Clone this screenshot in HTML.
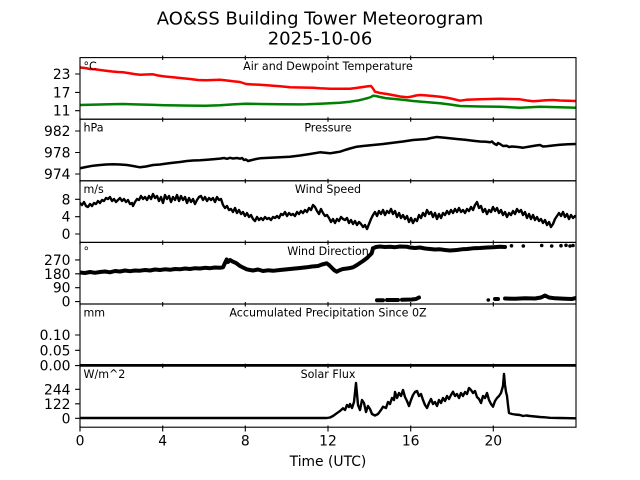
<!DOCTYPE html>
<html>
<head>
<meta charset="utf-8">
<style>
html,body{margin:0;padding:0;background:#fff;}
svg{display:block;}
text{font-family:"DejaVu Sans","Liberation Sans",sans-serif;fill:#000;}
.tk{font-size:13.89px;}
.pt{font-size:11.1px;}
</style>
</head>
<body>
<svg width="640" height="480" viewBox="0 0 640 480" xmlns="http://www.w3.org/2000/svg">
<rect x="0" y="0" width="640" height="480" fill="#fff"/>

<!-- Title -->
<text x="320" y="24.3" font-size="18" text-anchor="middle">AO&amp;SS Building Tower Meteorogram</text>
<text x="320" y="44.3" font-size="18" text-anchor="middle">2025-10-06</text>

<defs>
<clipPath id="c1"><rect x="80" y="57.6" width="496" height="61.6"/></clipPath>
<clipPath id="c2"><rect x="80" y="119.2" width="496" height="61.6"/></clipPath>
<clipPath id="c3"><rect x="80" y="180.8" width="496" height="61.6"/></clipPath>
<clipPath id="c4"><rect x="80" y="242.4" width="496" height="61.6"/></clipPath>
<clipPath id="c6"><rect x="80" y="365.6" width="496" height="61.6"/></clipPath>
</defs>

<!-- Panel 1: Temperature -->
<g clip-path="url(#c1)" fill="none" stroke-linejoin="round" stroke-linecap="round">
<polyline stroke="#008000" stroke-width="2.5" points="80,105 90,104.7 100,104.5 110,104.2 123,104 135,104.4 150,104.8 165,105.2 175,105.4 190,105.6 206,105.7 220,105.2 235,104.3 246,103.7 260,104 280,104.3 300,104.4 306.7,104.3 320,103.8 330,103.3 340,102.7 350,101.7 358,100.5 363,99.3 368,98 371,97 373,95.7 376,96 380,97 386.7,98.3 395,99 405,100 413,101 425,102 440,103.3 450,104.5 460,106 470,106.3 480,106.5 490,106.6 500,106.7 510,107.2 520,107.7 530,107.2 540,106.7 550,107 560,107.3 576,107.7"/>
<polyline stroke="#ff0000" stroke-width="2.5" points="80,67.5 85,68 90,69 95,69.3 100,70 106,70.7 112,71.5 118,72 123,72.3 128,73 134,74 140,74.7 146,74.5 153,74.3 158,75.5 165,76.5 173,77.3 180,78 190,79 198,80 206,80.3 213,80 220,79.7 227,80.5 233,81.3 240,82 246,84 253,84.5 260,84.7 267,85.2 273,85.7 280,86.3 290,87.3 300,87.5 313,87.7 320,88.3 330,88.7 340,88.7 350,88.7 356,88 363,87 368,86.3 371,86 373,88.5 375,91.7 380,93 387,94 395,95.5 400,96.5 407,97.3 412,96.5 416,95.5 420,95 427,95.5 433,96 440,96.8 447,97.7 453,99 460,100.7 466,99.8 473,99.5 480,99.3 490,99 500,98.7 510,99 520,99.3 527,100.5 533,101.3 540,100.8 546,100.2 553,100 560,100.5 568,100.8 576,101"/>
</g>

<!-- Panel 2: Pressure -->
<g clip-path="url(#c2)" fill="none" stroke="#000" stroke-width="2.5" stroke-linejoin="round">
<polyline points="80,168.3 86,167 93,165.7 100,165 106,164.5 113,164.3 120,164.5 127,165 133,166 140,167.3 146,166.5 153,165 160,164.5 167,163.5 173,162.7 180,162 187,161 193,160.5 200,160.3 207,159.8 213,159.3 220,158.6 224,158 227,158.8 230,157.8 233,158.5 237,158 240,158.7 242,158 244,160 246,159.5 248,161 250,160.5 252,160 256,159 260,158.3 270,157.8 280,157.2 290,156.7 300,155.5 310,154 320,152.3 325,152.8 330,153.3 335,152.5 340,151.7 345,150 350,148.5 356.7,146.7 363,146 373,145 383,144 393,142.7 403,141.5 413,140 420,139.5 426.7,139 431,138 436.7,137 445,137.8 456.7,139 465,139.8 473,140.7 480,141.5 486,141.8 490,142.3 492,141.5 494,143.5 496.7,145 498,143 500,144 503,146 506.7,145.7 509,147 512,146.5 518,147 523,147.7 530,146.5 536,145.5 540,145 543,146.5 546.7,146.3 553,145.5 560,144.7 568,144.3 576,144"/>
</g>

<!-- Panel 3: Wind Speed -->
<g clip-path="url(#c3)" fill="none" stroke="#000" stroke-width="2.4" stroke-linejoin="round">
<polyline points="80,203 82,205 84,202 86,206 88,207 90,204 92,206 94,203 96,204 98,201 100,203 102,200 104,201 106,198 108,199 110,197 112,201 114,199 116,202 118,200 120,198 122,201 124,199 126,202 128,200 130,204 132,203 133,206 135,202 137,199 139,200 141,196 143,199 145,197 147,200 149,196 151,199 153,194 155,198 157,196 159,201 161,197 163,203 165,195 167,199 169,196 171,202 173,197 175,200 177,195 179,201 181,196 183,200 185,197 187,203 189,198 191,202 193,199 195,204 197,200 199,197 201,196 203,200 205,197 207,201 209,198 211,200 213,198 215,202 217,197 219,200 221,199 223,205 225,208 227,206 229,210 231,209 233,212 235,208 237,213 239,210 241,214 243,212 245,216 247,213 249,217 251,215 253,219 255,221 257,217 259,220 261,218 263,220 265,217 267,219 269,218 271,220 273,217 275,218 277,216 279,218 281,214 283,215 285,212 287,216 289,213 291,215 293,214 295,216 297,212 299,214 301,211 303,213 305,210 307,212 309,208 311,210 313,205 315,207 317,211 319,214 321,209 323,213 325,216 327,215 329,218 331,222 333,219 335,223 337,219 339,221 341,217 343,219 345,220 347,218 349,223 351,220 353,224 355,221 357,225 359,222 361,224 363,227 365,225 367,229 369,224 371,219 373,215 375,212 377,216 379,211 381,214 383,210 385,215 387,211 389,213 391,209 393,214 395,211 397,217 399,213 401,218 403,215 405,219 407,216 409,222 411,218 413,223 415,219 417,221 419,215 421,218 423,213 425,216 427,210 429,214 431,212 433,217 435,213 437,219 439,214 441,218 443,213 445,215 447,211 449,214 451,210 453,213 455,209 457,212 459,208 461,212 463,210 465,213 467,209 469,211 471,207 473,210 475,205 477,202 479,208 481,206 483,212 485,209 487,214 489,210 491,212 493,207 495,211 497,208 499,213 501,210 503,215 505,212 507,217 509,213 511,215 513,211 515,214 517,209 519,212 521,210 523,215 525,212 527,218 529,214 531,219 533,215 535,220 537,217 539,221 541,219 543,223 545,220 547,225 549,222 551,227 553,224 555,219 557,216 559,213 561,216 563,212 565,217 567,214 569,219 571,215 573,218 575,216 576,217"/>
</g>

<!-- Panel 4: Wind Direction -->
<g clip-path="url(#c4)" fill="none" stroke="#000" stroke-width="4" stroke-linejoin="round" stroke-linecap="round">
<polyline points="80,272.5 85,273 90,272 95,272.8 100,272 105,271.5 110,272.3 115,271 120,271.5 125,270.5 130,271.2 135,270.5 140,270.7 145,270 150,270.5 155,269.5 160,270 165,269.3 170,269.8 175,269 180,269.3 185,268.5 190,269 195,268.2 200,268.5 205,267.8 210,268.2 215,267.5 220,267.8 223,267.3 225,263 226.7,259.5 228,262 230,260 233,261.7 236,263 240,266 243,267.5 246.7,269.3 250,270 253,270.5 258,269.5 263,271 268,270.3 273,270.8 280,270 285,269.5 290,269 295,268.5 300,268 306.7,267.3 312,266.5 318,266 322,264.5 326.7,263.3 329,265 332,268 334,270 336.7,271.7 340,270 343,269 347,268.5 350,268 353,267.3 357,265 360,263 363,261 366.7,258.3 369,256 371.7,253.3 373,248.3"/>
<polyline points="373,248.3 376,247 380,246.5 385,247 390,246.8 395,247.2 400,246.5 406.7,246.7 410,247.5 415,248 420,247.5 425,248.5 430,249 435,249.5 440,249.3 445,250 450,250.5 456.7,250 462,249.3 467,249 473,248.3 480,248 487,247.5 493,247.2 500,246.7 505,247"/>
<polyline points="377,300.3 383,300.3"/>
<polyline points="387,300 398,300"/>
<polyline points="402,299.8 412,299.5 416,299 419,297.5"/>
<polyline points="495,299 498,299"/>
<polyline points="505,298.5 515,298.8 525,298.3 535,298.5 541,297.5 545,295.5 549,297.5 555,298.3 565,298.8 572,299 576,298"/>
</g>
<g fill="#000">
<circle cx="488.3" cy="300" r="1.8"/>
<circle cx="511.5" cy="245.8" r="1.8"/>
<circle cx="523.3" cy="246" r="1.8"/>
<circle cx="541.7" cy="245.5" r="1.8"/>
<circle cx="551.7" cy="246" r="1.8"/>
<circle cx="561" cy="245.7" r="1.8"/>
<circle cx="566" cy="245.3" r="1.8"/>
<circle cx="570" cy="246" r="1.8"/>
<circle cx="573" cy="245.5" r="1.8"/>
</g>

<!-- Panel 5: Precipitation -->
<line x1="80" y1="365.4" x2="576" y2="365.4" stroke="#000" stroke-width="2.8"/>

<!-- Panel 6: Solar Flux -->
<g clip-path="url(#c6)" fill="none" stroke="#000" stroke-width="2.4" stroke-linejoin="round">
<polyline points="80,418 326.7,418 330,417.5 333,416 336.7,413.3 340,411 343,408.3 345,410 347,405 349,407 350,404 352,408 354,402 356,383 358,405 360,410 362,400 364,403 366,412 368,406 370,409 372,414 375,415.5 378,414 381,410 383,406.7 386,408 388,402 390,404 392,398 394,400 395,392 397,398 399,393 401,396 403,390 405,397 407,401 409,406 411,400 413,395 415,392 417,391 419,396 421,394 423,400 425,405 427,408 429,403 431,399 433,404 435,402 437,406 439,400 441,403 443,398 445,401 447,396 449,399 451,395 453,391.7 455,396 457,394 459,398 461,393 463,396 465,392 467,394 469,388 471,390 473,393 475,391 477,397 479,399 481,403 483,396 485,398 487,393 489,400 491,404 493,406.7 495,401 497,398 499,396 501,393 503,386 504,374 505,385 506,392 507,396 508,405 509,413 512,414 515,414.5 520,415 523,416 526,415.5 530,416 535,416.5 540,417 545,417.3 550,417.8 560,418 576,418.3"/>
</g>

<!-- Spines -->
<g fill="none" stroke="#000" stroke-width="1.1">
<rect x="80" y="57.6" width="496" height="61.6"/>
<rect x="80" y="119.2" width="496" height="61.6"/>
<rect x="80" y="180.8" width="496" height="61.6"/>
<rect x="80" y="242.4" width="496" height="61.6"/>
<rect x="80" y="304" width="496" height="61.6"/>
<rect x="80" y="365.6" width="496" height="61.6"/>
</g>

<!-- X ticks at boundaries -->
<g stroke="#000" stroke-width="1.1">
<path d="M162.7,55.6V60 M245.3,55.6V60 M328,55.6V60 M410.7,55.6V60 M493.3,55.6V60"/>
<path d="M80,117.2V121.7 M162.7,117.2V121.7 M245.3,117.2V121.7 M328,117.2V121.7 M410.7,117.2V121.7 M493.3,117.2V121.7"/>
<path d="M80,178.8V183.3 M162.7,178.8V183.3 M245.3,178.8V183.3 M328,178.8V183.3 M410.7,178.8V183.3 M493.3,178.8V183.3"/>
<path d="M80,240.4V244.9 M162.7,240.4V244.9 M245.3,240.4V244.9 M328,240.4V244.9 M410.7,240.4V244.9 M493.3,240.4V244.9"/>
<path d="M80,302V306.5 M162.7,302V306.5 M245.3,302V306.5 M328,302V306.5 M410.7,302V306.5 M493.3,302V306.5"/>
<path d="M80,363.6V368.1 M162.7,363.6V368.1 M245.3,363.6V368.1 M328,363.6V368.1 M410.7,363.6V368.1 M493.3,363.6V368.1"/>
<path d="M80,425.5V431.5 M162.7,425.5V431.5 M245.3,425.5V431.5 M328,425.5V431.5 M410.7,425.5V431.5 M493.3,425.5V431.5"/>
</g>

<!-- Y ticks -->
<g stroke="#000" stroke-width="1.1">
<path d="M75.1,74H80 M75.1,92.4H80 M75.1,110.7H80"/>
<path d="M75.1,131H80 M75.1,152.5H80 M75.1,174H80"/>
<path d="M75.1,199.3H80 M75.1,216.7H80 M75.1,234H80"/>
<path d="M75.1,259.9H80 M75.1,273.8H80 M75.1,287.7H80 M75.1,301.6H80"/>
<path d="M75.1,335H80 M75.1,350.3H80 M75.1,365.6H80"/>
<path d="M75.1,389.3H80 M75.1,403.8H80 M75.1,418.3H80"/>
</g>

<!-- Y tick labels -->
<g class="tk" text-anchor="end">
<text x="70.5" y="79">23</text>
<text x="70.5" y="97.4">17</text>
<text x="70.5" y="115.7">11</text>
<text x="70.5" y="136">982</text>
<text x="70.5" y="157.5">978</text>
<text x="70.5" y="179">974</text>
<text x="70.5" y="204.3">8</text>
<text x="70.5" y="221.7">4</text>
<text x="70.5" y="239">0</text>
<text x="70.5" y="264.9">270</text>
<text x="70.5" y="278.8">180</text>
<text x="70.5" y="292.7">90</text>
<text x="70.5" y="306.6">0</text>
<text x="70.5" y="340">0.10</text>
<text x="70.5" y="355.3">0.05</text>
<text x="70.5" y="370.6">0.00</text>
<text x="70.5" y="394.3">244</text>
<text x="70.5" y="408.8">122</text>
<text x="70.5" y="423.3">0</text>
</g>

<!-- X tick labels -->
<g class="tk" text-anchor="middle">
<text x="80" y="445.5">0</text>
<text x="162.7" y="445.5">4</text>
<text x="245.3" y="445.5">8</text>
<text x="328" y="445.5">12</text>
<text x="410.7" y="445.5">16</text>
<text x="493.3" y="445.5">20</text>
</g>
<text class="tk" x="328" y="466" text-anchor="middle">Time (UTC)</text>

<!-- Panel titles -->
<g class="pt" text-anchor="middle">
<text x="328" y="70">Air and Dewpoint Temperature</text>
<text x="328" y="131.6">Pressure</text>
<text x="328" y="193.2">Wind Speed</text>
<text x="328" y="254.8">Wind Direction</text>
<text x="328" y="316.4">Accumulated Precipitation Since 0Z</text>
<text x="328" y="378">Solar Flux</text>
</g>

<!-- Unit labels -->
<g class="pt">
<text x="83.5" y="70">°C</text>
<text x="83.5" y="131.6">hPa</text>
<text x="83.5" y="193.2">m/s</text>
<text x="83.5" y="254.8">°</text>
<text x="83.5" y="316.4">mm</text>
<text x="83.5" y="378">W/m^2</text>
</g>
</svg>
</body>
</html>
